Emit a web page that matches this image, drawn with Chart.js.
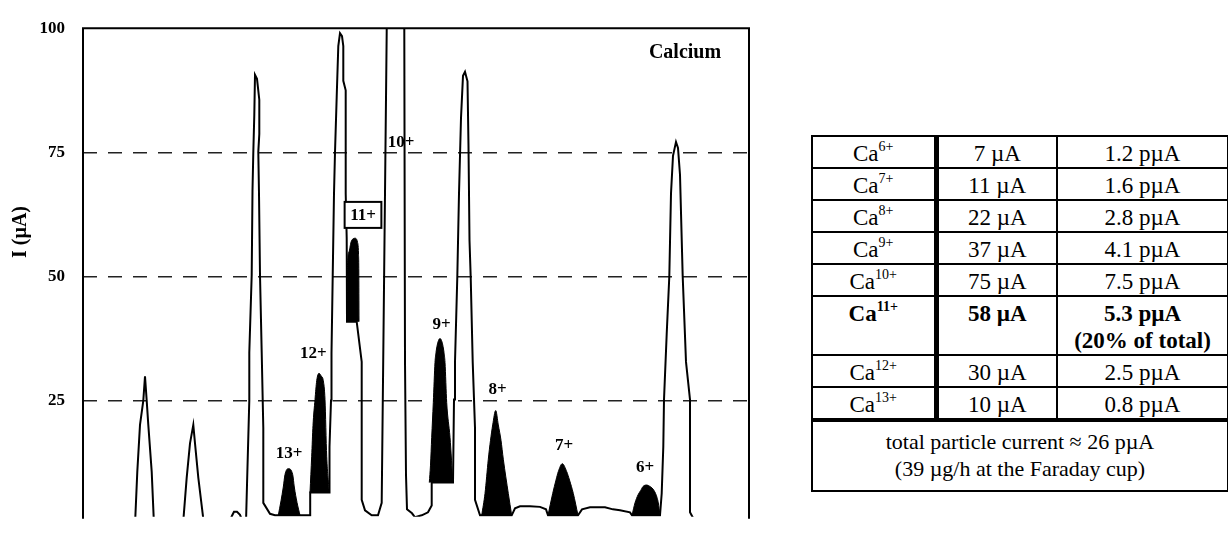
<!DOCTYPE html>
<html>
<head>
<meta charset="utf-8">
<script src="https://cdn.jsdelivr.net/npm/chart.js@4.4.1/dist/chart.umd.min.js"></script>
<style>
  html, body { margin: 0; padding: 0; background: #fff; overflow: hidden; }
  #wrap { position: relative; width: 1228px; height: 545px; }
  #scan { position: absolute; left: 0; top: 0; }
  #ionTable {
    position: absolute; left: 811px; top: 135px; width: 416px;
    border-collapse: collapse; table-layout: fixed;
    font-family: 'Liberation Serif', 'Times New Roman', serif; font-size: 23px; color: #000;
  }
  #ionTable td {
    border: 2px solid #000; text-align: center; vertical-align: top;
    padding: 3px 0 0 0; line-height: 27px; white-space: nowrap;
  }
  #ionTable tr { height: 32px; }
  #ionTable tr.big { height: 59px; }
  #ionTable td.ion { border-right: 5px solid #000; }
  #ionTable td.pmu { border-right-width: 2px; }
  #ionTable tr.hl td { font-weight: bold; }
  #ionTable .sup { font-size: 14px; vertical-align: 10px; line-height: 0; }
  #ionTable td.total { border-top: 4px solid #000; font-size: 22px; line-height: 27px; padding: 6px 0 8px 0; }
</style>
</head>
<body>
<div id="wrap">
  <canvas id="scan" width="770" height="545"></canvas>
  <table id="ionTable"></table>
</div>
<script>
// scan trace (arbitrary scan units vs beam current in µA)
const traceX = [0, 50, 52, 54.3, 57, 60.3, 62, 63.7, 65.3, 68.7, 71, 74,
  97, 100, 103.7, 107, 110.3, 112, 115.3, 121, 124,
  143, 146, 149, 151, 154, 157, 159, 161, 163,
  164, 165.3, 166.3, 166.3, 168.7, 169.5, 170.3, 171.3, 172, 174, 176.3, 176.3, 175.3, 176, 177, 178.7, 180.3, 180.3, 187, 192,
  227, 227.2, 246.3,
  246.5, 248, 248.5, 249.7, 251, 252, 253.7, 255.3, 257, 259, 260.3, 260.3, 262.7, 262.7, 263.7, 264, 273.7, 278.7, 278.7, 282, 288.7,
  295, 298.7, 300, 302, 303.7, 304, 321.3, 321.3, 322, 323, 324, 329, 332, 338.7, 345, 348.7, 348.7,
  370, 371, 372, 374.3, 376, 378, 380, 382, 384.5, 385.5, 386.5, 387.7, 389.7, 392, 392, 397,
  428.7, 432, 437, 447, 457, 463, 465, 495, 499, 507, 522, 530, 537, 547, 549, 577,
  578.7, 580.3, 581, 583.7, 586.3, 588, 590, 593, 595, 597, 599.7, 603, 607, 607, 610, 617, 666];
const traceI = [-1.5, -1.5, 0, 10.7, 20.1, 25, 29.9, 25, 20.1, 10.7, 0, -1.5,
  -1.5, 0, 9.5, 16.4, 20.1, 16.4, 9.5, 0, -1.5,
  -1.5, 0.5, 1.8, 2.6, 2.6, 2.0, 1.0, 0.3, 0.5,
  8, 17.6, 25, 34.7, 50.3, 67.3, 74.9, 82.5, 90.6, 89.8, 85.6, 78.7, 75.1, 66.7, 50.3, 34.7, 19.5, 4.4, 2.2, 1.9,
  1.9, 6.5, 6.5,
  15.7, 25, 34.6, 50, 66.7, 75, 86.2, 96.4, 99.0, 98.4, 96.4, 89.4, 87.5, 66.7, 57.7, 40.9, 40.9, 32.8, 5.0, 2.9, 1.9,
  1.9, 4.4, 29, 66.7, 99.3, 130, 130, 99.3, 32.8, 10, 3.1, 2.3, 1.5, 1.9, 2.5, 3.9, 8.5,
  8.5, 25.2, 32.8, 49.9, 66.7, 81.9, 90.4, 91.2, 89.3, 76.2, 57.3, 49.9, 32.8, 19.5, 5.0, 1.9,
  1.9, 3.3, 3.7, 3.7, 3.6, 3.1, 1.9, 1.9, 3.1, 3.5, 3.5, 3.1, 2.9, 2.5, 1.9, 1.9,
  6.3, 15.7, 25.2, 38.4, 50, 66.7, 74.3, 77.1, 75.9, 70.5, 50, 32.8, 25.2, 2.5, 1.4, -1.5, -1.5];

// shaded calcium peaks
const peakNames = ['13+', '12+', '11+', '9+', '8+', '7+', '6+'];
const peakBase = [1.9, 6.5, 40.9, 8.5, 1.9, 1.9, 1.9];
const peakX = [
  [195.3, 198, 200.3, 202, 205.3, 209.7, 211.3, 214, 217],
  [227, 228.7, 230, 232, 233.7, 236, 238, 240.3, 242, 243.7, 246.3],
  [264.3, 264.5, 266, 268, 272, 274.5, 275.5, 275.8, 276],
  [346.3, 347.5, 348.7, 350.3, 352, 353, 355, 357, 359, 361, 362, 363.7, 367, 368.5, 369.7],
  [398.7, 402, 405.3, 407.5, 409.7, 412.7, 415.3, 418, 420.3, 425.3, 428.7],
  [465, 469.7, 473, 475.3, 479.3, 483.7, 486.5, 490.3, 495],
  [549, 552, 555, 557.7, 560, 563.7, 567, 571, 574, 575.3, 577]
];
const peakI = [
  [1.9, 4.8, 7.6, 10.1, 11.3, 10.1, 7.6, 4.5, 1.9],
  [6.5, 13.8, 20, 25.2, 29, 30.5, 30, 29, 25.2, 13.8, 6.5],
  [40.9, 52.3, 55, 56.9, 57.7, 56.9, 54.5, 51.1, 40.9],
  [8.5, 12, 17.6, 24.6, 32.7, 34.7, 36.8, 37.5, 36.8, 34.7, 32.7, 24.6, 17.6, 13, 8.5],
  [1.9, 6.3, 13.2, 17, 20.1, 23, 20.1, 17, 13.2, 6.3, 1.9],
  [1.9, 6.3, 9, 10.7, 12.3, 10.7, 9, 6.3, 1.9],
  [1.9, 4.4, 6, 6.9, 7.7, 8.0, 7.7, 6.9, 5.5, 4.4, 1.9]
];

// charge state labels in the plot
const ionLabels = ['13+', '12+', '11+', '10+', '9+', '8+', '7+', '6+'];
const labelX = [206, 230.3, 280, 318, 358.7, 414.5, 481, 562];
const labelY = [14.6, 34.6, 62.4, 77.2, 40.6, 27.4, 16.2, 11.8];
const boxedIon = '11+';

const yTicks = [25, 50, 75, 100];

// table values
const ions = ['6+', '7+', '8+', '9+', '10+', '11+', '12+', '13+'];
const beamCurrent = [7, 11, 22, 37, 75, 58, 30, 10];
const particleCurrent = [1.2, 1.6, 2.8, 4.1, 7.5, 5.3, 2.5, 0.8];
const totalLines = ['total particle current \u2248 26 p\u00b5A', '(39 \u00b5g/h at the Faraday cup)'];
const shareNote = '(20% of total)';

const serif = '"Liberation Serif", "Times New Roman", serif';

const toPoints = (xs, ys) => xs.map((v, i) => ({ x: v, y: ys[i] }));

const datasets = peakNames.map((name, i) => ({
    label: name,
    data: toPoints(peakX[i], peakI[i]),
    borderColor: '#000',
    backgroundColor: '#000',
    borderWidth: 1,
    pointRadius: 0,
    cubicInterpolationMode: 'monotone',
    fill: { value: peakBase[i] }
}));
datasets.push({
    label: 'scan',
    data: toPoints(traceX, traceI),
    borderColor: '#000',
    borderWidth: 2,
    pointRadius: 0,
    tension: 0,
    fill: false
});

const frameAndLabels = {
    id: 'frameAndLabels',
    afterDatasetsDraw(chart) {
        const { ctx, chartArea: a, scales: { x, y } } = chart;
        ctx.save();
        ctx.strokeStyle = '#000';
        ctx.lineWidth = 2;
        ctx.beginPath();
        ctx.moveTo(a.left, a.bottom + 2);
        ctx.lineTo(a.left, a.top);
        ctx.lineTo(a.right, a.top);
        ctx.lineTo(a.right, a.bottom + 2);
        ctx.stroke();

        ctx.fillStyle = '#000';
        ctx.font = `bold 17px ${serif}`;
        ctx.textAlign = 'center';
        ctx.textBaseline = 'middle';
        ionLabels.forEach((t, i) => {
            const px = x.getPixelForValue(labelX[i]);
            const py = y.getPixelForValue(labelY[i]);
            if (t === boxedIon) {
                const w = ctx.measureText(t).width + 11;
                ctx.fillStyle = '#fff';
                ctx.fillRect(px - w / 2, py - 13, w, 26);
                ctx.strokeRect(px - w / 2, py - 13, w, 26);
                ctx.fillStyle = '#000';
            }
            ctx.fillText(t, px, py + 1);
        });

        ctx.font = `bold 20px ${serif}`;
        ctx.fillText('Calcium', x.getPixelForValue(602), y.getPixelForValue(95.1));

        ctx.translate(a.left - 62, 232);
        ctx.rotate(-Math.PI / 2);
        ctx.fillText('I (\u00b5A)', 0, 0);
        ctx.restore();
    }
};

new Chart(document.getElementById('scan'), {
    type: 'line',
    data: { datasets },
    options: {
        responsive: false,
        animation: false,
        events: [],
        layout: { padding: { top: 24, right: 21, bottom: 0, left: 0 } },
        plugins: { legend: { display: false }, tooltip: { enabled: false } },
        scales: {
            x: { type: 'linear', min: 0, max: 666, display: false },
            y: {
                type: 'linear',
                min: 1.6,
                max: 100,
                afterBuildTicks: (scale) => { scale.ticks = yTicks.map(v => ({ value: v })); },
                afterFit: (scale) => { scale.width = 83; },
                ticks: {
                    color: '#000',
                    padding: 18,
                    font: { family: serif, size: 17, weight: 'bold' }
                },
                grid: {
                    drawTicks: false,
                    lineWidth: 1.5,
                    color: (c) => (c.tick && c.tick.value === 100 ? 'rgba(0,0,0,0)' : '#222')
                },
                border: { display: false, dash: [14, 11] }
            }
        }
    },
    plugins: [frameAndLabels]
});

// table of currents
const table = document.getElementById('ionTable');
const colgroup = document.createElement('colgroup');
[124, 121, 171].forEach(w => {
    const col = document.createElement('col');
    col.style.width = w + 'px';
    colgroup.appendChild(col);
});
table.appendChild(colgroup);

ions.forEach((ion, i) => {
    const tr = document.createElement('tr');
    const highlight = ion === boxedIon;
    if (highlight) tr.className = 'hl big';
    tr.innerHTML = `
        <td class="ion">Ca<span class="sup">${ion}</span></td>
        <td class="mu">${beamCurrent[i]} \u00b5A</td>
        <td class="pmu">${particleCurrent[i].toFixed(1)} p\u00b5A${highlight ? '<br>' + shareNote : ''}</td>
    `;
    table.appendChild(tr);
});

const totalRow = document.createElement('tr');
totalRow.innerHTML = `<td class="total" colspan="3">${totalLines.join('<br>')}</td>`;
table.appendChild(totalRow);
</script>
</body>
</html>
